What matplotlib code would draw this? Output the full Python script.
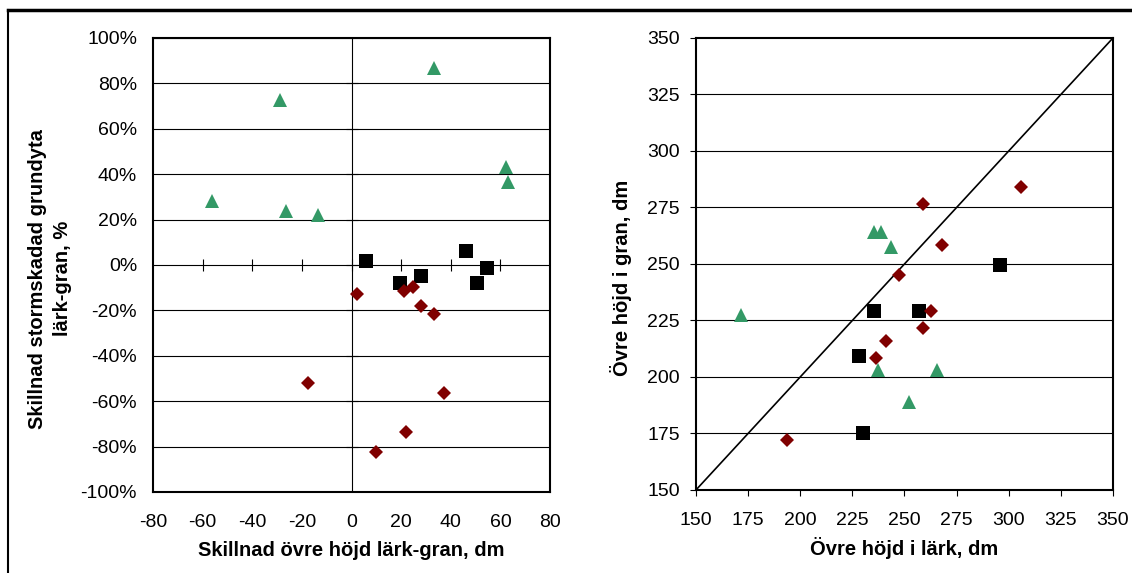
import numpy as np
import matplotlib
matplotlib.use("Agg")
import matplotlib.pyplot as plt
from matplotlib.lines import Line2D

plt.rcParams['font.family'] = ['Liberation Sans', 'DejaVu Sans']
plt.rcParams['axes.unicode_minus'] = False

# --- left panel: difference lärk-gran ---
diff_green_x = [-56.1, -28.9, -26.4, -13.7, 33.4, 62.2, 63.0]
diff_green_y = [28.0, 72.7, 24.0, 22.1, 86.7, 43.0, 36.4]

diff_black_x = [6.0, 19.5, 27.9, 46.1, 54.5, 50.7]
diff_black_y = [1.9, -7.9, -4.7, 6.2, -1.3, -7.9]

diff_red_x = [2.2, 21.0, 24.8, 28.1, 33.4, -17.5, 37.2, 22.0, 9.8]
diff_red_y = [-13.0, -11.5, -9.9, -18.1, -21.5, -52.2, -56.3, -73.7, -82.6]

left_xticks = [-80, -60, -40, -20, 0, 20, 40, 60, 80]
left_yticks = [-100, -80, -60, -40, -20, 0, 20, 40, 60, 80, 100]

# --- right panel: heights ---
h_green_lark = [235.6, 238.7, 243.7, 171.5, 237.5, 265.4, 252.0]
h_green_gran = [264.1, 264.1, 257.5, 227.4, 203.0, 203.0, 189.0]

h_black_lark = [295.9, 235.6, 257.1, 228.4, 230.3]
h_black_gran = [249.6, 229.3, 229.3, 209.2, 175.1]

h_red_lark = [259.0, 268.2, 305.9, 247.2, 262.8, 259.0, 241.0, 236.3, 193.9]
h_red_gran = [276.5, 258.5, 283.9, 245.2, 229.1, 221.7, 215.8, 208.4, 172.3]

right_ticks = [150, 175, 200, 225, 250, 275, 300, 325, 350]
one_to_one = [150, 350]

GREEN = "#339966"
RED = "#800000"
BLACK = "#000000"
FS = 14
LFS = 14.5

fig = plt.figure(figsize=(11.32, 5.73), dpi=100)

# outer frame (only top and left edges are visible in the picture)
fig.add_artist(Line2D([8 / 1132, 8 / 1132], [0, 1 - 10 / 573], color="black", lw=1.5,
                      transform=fig.transFigure))
fig.add_artist(Line2D([8 / 1132, 1], [1 - 10 / 573, 1 - 10 / 573], color="black", lw=2.5,
                      transform=fig.transFigure))

# left chart
ax1 = fig.add_axes([0.1352, 0.1414, 0.3507, 0.7923])
ax1.set_xlim(-80, 80)
ax1.set_ylim(-100, 100)
ax1.set_xticks(left_xticks)
ax1.set_yticks(left_yticks)
ax1.set_yticklabels([f"{v}%" for v in left_yticks])
ax1.tick_params(length=0, labelsize=FS)
ax1.tick_params(axis="x", pad=16)
ax1.tick_params(axis="y", pad=11.5)
for y in left_yticks:
    ax1.axhline(y, color="black", lw=0.8, zorder=1)
ax1.axvline(0, color="black", lw=0.8, zorder=1)
# cross tick marks on the axes through zero
ax1.plot([t for t in left_xticks if abs(t) < 80], [0] * 7, ls="none", marker="|",
         ms=8, mew=0.8, color="black", zorder=1)
ax1.plot([0] * 9, [t for t in left_yticks if abs(t) < 100], ls="none", marker="_",
         ms=8, mew=0.8, color="black", zorder=1)
ax1.plot(diff_green_x, diff_green_y, ls="none", marker="^", ms=10, mew=0, color=GREEN, zorder=3)
ax1.plot(diff_black_x, diff_black_y, ls="none", marker="s", ms=9.5, mew=0, color=BLACK, zorder=3)
ax1.plot(diff_red_x, diff_red_y, ls="none", marker="D", ms=7, mew=0, color=RED, zorder=3)
for s in ax1.spines.values():
    s.set_linewidth(1.5)
ax1.set_xlabel("Skillnad övre höjd lärk-gran, dm", fontsize=LFS, fontweight="bold", labelpad=7)
ax1.set_ylabel("Skillnad stormskadad grundyta\nlärk-gran, %", fontsize=LFS, fontweight="bold",
               linespacing=1.4)
ax1.yaxis.set_label_coords(-0.205, 0.47)

# right chart
ax2 = fig.add_axes([0.6148, 0.1449, 0.3684, 0.7888])
ax2.set_xlim(150, 350)
ax2.set_ylim(150, 350)
ax2.set_xticks(right_ticks)
ax2.set_yticks(right_ticks)
ax2.tick_params(length=4.5, width=0.8, labelsize=FS)
ax2.tick_params(axis="x", pad=11)
ax2.tick_params(axis="y", pad=7)
for y in right_ticks[1:-1]:
    ax2.axhline(y, color="black", lw=0.8, zorder=1)
ax2.plot(one_to_one, one_to_one, color="black", lw=1.2, zorder=2)
ax2.plot(h_green_lark, h_green_gran, ls="none", marker="^", ms=10, mew=0, color=GREEN, zorder=3)
ax2.plot(h_black_lark, h_black_gran, ls="none", marker="s", ms=9.5, mew=0, color=BLACK, zorder=3)
ax2.plot(h_red_lark, h_red_gran, ls="none", marker="D", ms=7, mew=0, color=RED, zorder=3)
for s in ax2.spines.values():
    s.set_linewidth(1.5)
ax2.set_xlabel("Övre höjd i lärk, dm", fontsize=LFS, fontweight="bold", labelpad=6)
ax2.set_ylabel("Övre höjd i gran, dm", fontsize=LFS, fontweight="bold")
ax2.yaxis.set_label_coords(-0.154, 0.47)

fig.savefig("out.png", dpi=100)
